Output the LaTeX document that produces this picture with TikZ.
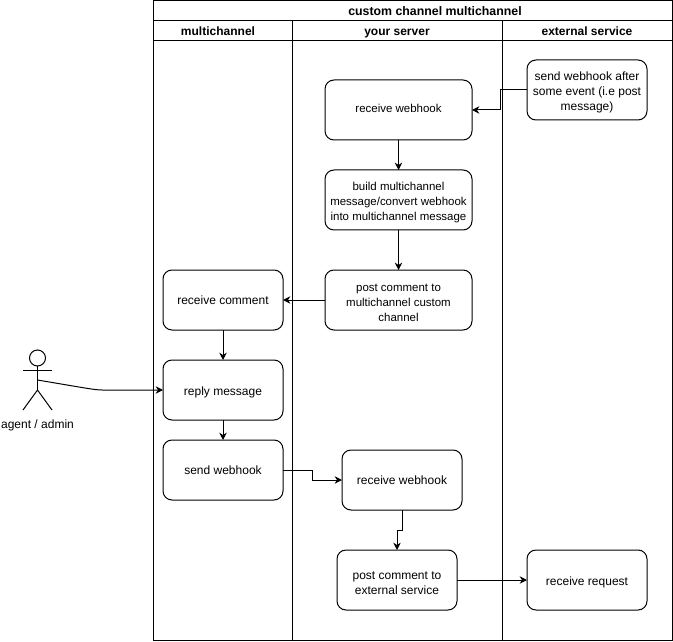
\documentclass[tikz,border=0pt]{standalone}
\usepackage{fontspec}
\setmainfont{Liberation Sans}
\usetikzlibrary{arrows.meta, positioning}

\begin{document}
\begin{tikzpicture}[
    x=0.75pt, y=-0.75pt,
    node distance=22.5pt and 30pt,
    >={Stealth[length=5.5pt, width=5.5pt]},
    line width=0.75pt,
    every node/.style={font=\fontsize{9}{11.25}\selectfont, outer sep=0pt},
    activity/.style={rectangle, draw, rounded corners=6.75pt, align=center, inner sep=1pt, minimum width=90pt, minimum height=45pt},
    smalltext/.style={font=\fontsize{8.6}{11.25}\selectfont},
    wide/.style={minimum width=110.25pt, smalltext},
    lanehead/.style={rectangle, draw, inner sep=0pt, font=\fontsize{9}{11.25}\selectfont\bfseries, text height=9pt, text depth=1pt, minimum height=15pt},
    lanebody/.style={rectangle, draw, inner sep=0pt, minimum height=450pt}
  ]
  \useasboundingbox (0,0) rectangle (673,641);

  % swimlanes
  \node[lanehead, anchor=north west, minimum width=389.25pt] (pool) at (153,0.5) {\hspace*{33.75pt}\fontsize{9.25}{11.25}\selectfont custom channel multichannel};
  \node[lanehead, anchor=north west, minimum width=104.25pt] (lanea) at (153,20.5) {multichannel\hspace*{6.75pt}};
  \node[lanehead, right=0pt of lanea, minimum width=157.5pt] (laneb) {your server};
  \node[lanehead, right=0pt of laneb, minimum width=127.5pt] (lanec) {external service};
  \node[lanebody, below=0pt of lanea, minimum width=104.25pt] (bodya) {};
  \node[lanebody, below=0pt of laneb, minimum width=157.5pt] (bodyb) {};
  \node[lanebody, below=0pt of lanec, minimum width=127.5pt] (bodyc) {};

  % your server, upper part
  \node[activity, wide] (recvhook) at (398.5,110) {\raisebox{2.25pt}{receive webhook}};
  \node[activity, wide, below=of recvhook] (build) {\rule{0pt}{10pt}build multichannel\\message/convert webhook\\into multichannel message};
  \node[activity, wide, below=30pt of build] (postcustom) {\rule{0pt}{10pt}post comment to\\multichannel custom\\channel};

  % external service
  \node[activity] (sendafter) at (587,90) {\rule{0pt}{10pt}send webhook after\\some event (i.e post\\message)};
  \node[activity] (recvrequest) at (587,580) {\rule{0pt}{9.5pt}receive request};

  % multichannel
  \node[activity, left=31.5pt of postcustom] (recvcomment) {receive comment};
  \node[activity, below=of recvcomment] (reply) {\rule{0pt}{9.5pt}reply message};
  \node[activity, below=15pt of reply] (sendhook) {send webhook};

  % your server, lower part
  \node[activity] (recvhookb) at (402,480) {receive webhook};
  \node[activity] (postext) at (397,580) {\rule{0pt}{10pt}post comment to\\external service};

  % actor
  \node[circle, draw, inner sep=0pt, minimum size=12pt] (head) at (37.5,358) {};
  \coordinate (hip) at (37.5,390);
  \coordinate (hand) at (37.5,380);
  \draw (head) -- (hip);
  \draw (23,370) -- (52,370);
  \draw (23,410) -- (hip) -- (52,410);
  \node[below=4pt of hip, yshift=-15pt] (actor) {agent / admin};

  \draw[->] (sendafter.west) -- ++(-27,0) |- (recvhook.east);
  \draw[->] (recvhook) -- (build);
  \draw[->] (build) -- (postcustom);
  \draw[->] (postcustom) -- (recvcomment);
  \draw[->] (recvcomment) -- (reply);
  \draw[->] (reply) -- (sendhook);
  \draw[->] (hand) .. controls (85,388) and (95,390) .. (102,390) -- (reply.west);
  \draw[->] (sendhook.east) -- ++(29,0) |- (recvhookb.west);
  \draw[->] (recvhookb.south) -- ++(0,20) -| (postext.north);
  \draw[->] (postext) -- (recvrequest);

\end{tikzpicture}
\end{document}
